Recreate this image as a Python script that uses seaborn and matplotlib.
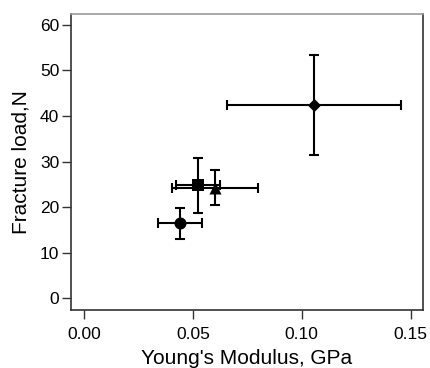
import matplotlib
matplotlib.use("Agg")
import matplotlib.pyplot as plt
import seaborn as sns
import pandas as pd

# Data
groups = ["A", "B", "C", "D"]
modulus = [0.0441, 0.0525, 0.0601, 0.1057]
modulus_err = [0.0100, 0.0101, 0.0199, 0.0400]
fracture = [16.4, 24.8, 24.3, 42.4]
fracture_err = [3.3, 6.0, 3.8, 11.0]
markers = {"A": "o", "B": "s", "C": "^", "D": "D"}
msizes = {"A": 75, "B": 70, "C": 75, "D": 45}

df = pd.DataFrame({"group": groups, "modulus": modulus, "mod_err": modulus_err,
                   "load": fracture, "load_err": fracture_err})

sns.set_theme(style="ticks")
plt.rcParams['font.family'] = ['Liberation Sans', 'DejaVu Sans']

fig = plt.figure(figsize=(4.3, 3.68), dpi=100)
ax = fig.add_axes([71/430, 1 - 310/368, (423 - 71)/430, (310 - 14)/368])

ax.errorbar(df["modulus"], df["load"], xerr=df["mod_err"], yerr=df["load_err"],
            fmt="none", ecolor="black", elinewidth=1.5, capsize=3.5, capthick=1.5, zorder=2)
for g, sub in df.groupby("group"):
    sns.scatterplot(data=sub, x="modulus", y="load", marker=markers[g], s=msizes[g],
                    color="black", edgecolor="black", linewidth=0, ax=ax, zorder=3, legend=False)

ax.set_xlim(-0.006, 0.1557)
ax.set_ylim(-2.6, 62.4)
ax.set_xticks([0.00, 0.05, 0.10, 0.15])
ax.set_xticklabels(["0.00", "0.05", "0.10", "0.15"])
ax.set_yticks([0, 10, 20, 30, 40, 50, 60])
ax.tick_params(axis="both", labelsize=12.5, length=6.5, width=1, color="#333333",
               labelcolor="black")
ax.tick_params(axis="x", pad=6)
ax.tick_params(axis="y", pad=2)
ax.set_xlabel("Young's Modulus, GPa", fontsize=15, color="black", labelpad=5)
ax.set_ylabel("Fracture load,N", fontsize=15, color="black", labelpad=7)
for side in ["left", "bottom", "right"]:
    ax.spines[side].set_visible(True)
    ax.spines[side].set_color("#333333")
    ax.spines[side].set_linewidth(1.2)
ax.spines["top"].set_visible(True)
ax.spines["top"].set_color("#999999")
ax.spines["top"].set_linewidth(1.2)

fig.savefig("out.png", dpi=100)
